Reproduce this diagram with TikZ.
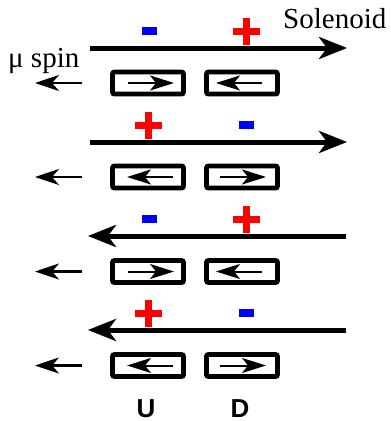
\documentclass[tikz,border=0pt]{standalone}
\usepackage{fontspec}
\setmainfont{Liberation Serif}
\newfontfamily\udfont{Liberation Sans}
\usetikzlibrary{arrows.meta}
\tikzset{
  magbox/.style={draw, line width=4.8pt, rounded corners=2pt, minimum width=71pt, minimum height=22pt, inner sep=0pt},
  solarrow/.style={line width=5pt, -{Stealth[length=28pt,width=22pt,inset=8pt]}},
  spinarrow/.style={line width=2.2pt, -{Stealth[length=24pt,width=16pt,inset=7pt]}},
  boxarrow/.style={line width=2pt, -{Stealth[length=24pt,width=15pt,inset=6pt]}},
  lbl/.style={inner sep=0pt, anchor=base west, font=\fontsize{29}{30}\selectfont},
  udlbl/.style={inner sep=0pt, anchor=base, font=\udfont\bfseries\fontsize{26}{28}\selectfont},
}
\newcommand{\plussign}[2]{\fill[red] (#1-13.5,#2-3.5) rectangle (#1+13.5,#2+3.5); \fill[red] (#1-3.5,#2-13.5) rectangle (#1+3.5,#2+13.5);}
\newcommand{\minussign}[2]{\fill[blue] (#1-7.5,#2-4) rectangle (#1+7.5,#2+4);}
\begin{document}
\begin{tikzpicture}[x=1pt,y=-1pt]
\useasboundingbox (0,0) rectangle (391,421);
% labels
\node[lbl] (sol) at (283,28) {Solenoid};
\node[lbl] (mu) at (8,67) {μ spin};
% row 1
\coordinate (s1a) at (90,48); \coordinate (s1b) at (347,48);
\draw[solarrow] (s1a) -- (s1b);
\minussign{149}{31} \plussign{246.5}{31}
\node[magbox] (u1) at (148,83) {};
\node[magbox] (d1) at (242,83) {};
\draw[boxarrow] ([xshift=-20pt]u1.center) -- ([xshift=26pt]u1.center);
\draw[boxarrow] ([xshift=20pt]d1.center) -- ([xshift=-26pt]d1.center);
\coordinate (m1a) at (82,83); \coordinate (m1b) at (35,83);
\draw[spinarrow] (m1a) -- (m1b);
% row 2
\coordinate (s2a) at (90,142); \coordinate (s2b) at (347,142);
\draw[solarrow] (s2a) -- (s2b);
\plussign{148}{125} \minussign{246}{125}
\node[magbox] (u2) at (148,177) {};
\node[magbox] (d2) at (242,177) {};
\draw[boxarrow] ([xshift=25pt]u2.center) -- ([xshift=-21pt]u2.center);
\draw[boxarrow] ([xshift=-22pt]d2.center) -- ([xshift=24pt]d2.center);
\coordinate (m2a) at (82,177); \coordinate (m2b) at (35,177);
\draw[spinarrow] (m2a) -- (m2b);
% row 3
\coordinate (s3a) at (346,236); \coordinate (s3b) at (88,236);
\draw[solarrow] (s3a) -- (s3b);
\minussign{149}{219} \plussign{246.5}{219}
\node[magbox] (u3) at (148,271.5) {};
\node[magbox] (d3) at (242,271.5) {};
\draw[boxarrow] ([xshift=-20pt]u3.center) -- ([xshift=26pt]u3.center);
\draw[boxarrow] ([xshift=20pt]d3.center) -- ([xshift=-26pt]d3.center);
\coordinate (m3a) at (82,271.5); \coordinate (m3b) at (35,271.5);
\draw[spinarrow] (m3a) -- (m3b);
% row 4
\coordinate (s4a) at (346,330); \coordinate (s4b) at (88,330);
\draw[solarrow] (s4a) -- (s4b);
\plussign{148}{313} \minussign{246}{313}
\node[magbox] (u4) at (148,365.5) {};
\node[magbox] (d4) at (242,365.5) {};
\draw[boxarrow] ([xshift=25pt]u4.center) -- ([xshift=-21pt]u4.center);
\draw[boxarrow] ([xshift=-22pt]d4.center) -- ([xshift=24pt]d4.center);
\coordinate (m4a) at (82,365.5); \coordinate (m4b) at (35,365.5);
\draw[spinarrow] (m4a) -- (m4b);
% U D
\node[udlbl] (U) at (146,417.5) {U};
\node[udlbl] (D) at (240,417.5) {D};
\end{tikzpicture}
\end{document}
